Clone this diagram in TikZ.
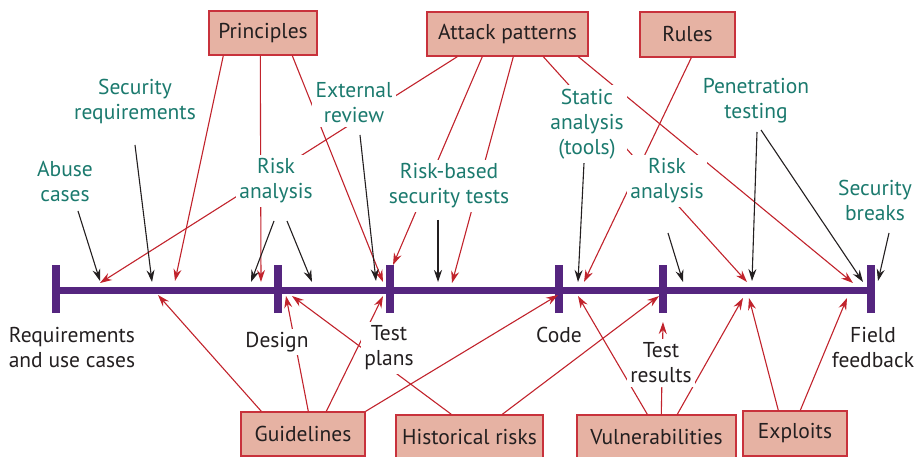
\documentclass[tikz,border=0pt]{standalone}
\usepackage{fontspec}
\setmainfont{PT Sans}
\usetikzlibrary{arrows.meta}
\definecolor{lblc}{HTML}{1B7A6E}
\definecolor{boxfill}{HTML}{E6B2A3}
\definecolor{boxline}{HTML}{C8323C}
\definecolor{redln}{HTML}{C1232C}
\definecolor{purp}{HTML}{55257F}
\definecolor{ink}{HTML}{231F20}
\begin{document}
\begin{tikzpicture}[x=1pt,y=-1pt,
  txt/.style={font=\fontsize{21.5}{25}\selectfont, align=center, fill=white, inner sep=3.5pt},
  lbl/.style={txt, text=lblc},
  blab/.style={txt, text=ink},
  box/.style={draw=boxline, fill=boxfill, line width=1.4pt, text=ink, font=\fontsize{21.5}{25}\selectfont, inner sep=0pt, minimum height=44pt},
  blk/.style={draw=ink, line width=1.1pt, -{Stealth[length=12pt,width=8pt,inset=4pt]}},
  rd/.style={draw=redln, line width=1.1pt, -{Stealth[length=12pt,width=8pt,inset=4pt]}},
  tick/.style={draw=purp, line width=8pt},
]
\useasboundingbox (0,0) rectangle (916,457);

% boxes
\node[box, minimum width=108pt] (principles) at (263,33) {Principles};
\node[box, minimum width=161pt] (attack) at (507.5,34) {Attack patterns};
\node[box, minimum width=95pt, minimum height=45pt] (rules) at (687.5,34.5) {Rules};
\node[box, minimum width=124pt] (guide) at (303,434) {Guidelines};
\node[box, minimum width=147pt] (hist) at (469.5,437) {Historical risks};
\node[box, minimum width=159pt] (vuln) at (656.5,437) {Vulnerabilities};
\node[box, minimum width=104pt, minimum height=45pt] (expl) at (795,433.5) {Exploits};

% timeline
\coordinate (t0) at (56,290);
\coordinate (t1) at (278,290);
\coordinate (t2) at (390,290);
\coordinate (t3) at (559,290);
\coordinate (t4) at (663,290);
\coordinate (t5) at (871,290);
\draw[purp, line width=7pt] (t0) -- (t5);
\foreach \t in {t0,t1,t2,t3,t4,t5}{
  \draw[tick] ([yshift=-23pt]\t) -- ([yshift=25pt]\t);
}

% end points
\coordinate (e1) at (100,281);
\coordinate (e2) at (152,282);
\coordinate (e3) at (251,282);
\coordinate (e4) at (312,282);
\coordinate (e5) at (376,281);
\coordinate (e6) at (438,282);
\coordinate (e7) at (578,282);
\coordinate (e8) at (683,282);
\coordinate (e9) at (752,281);
\coordinate (e10) at (863,282);
\coordinate (e11) at (878,281);
\coordinate (f1) at (175,281);
\coordinate (f2) at (261,282);
\coordinate (f3) at (383,282);
\coordinate (f4) at (100,283);
\coordinate (f5) at (393,265);
\coordinate (f6) at (452,283);
\coordinate (f7) at (747,282);
\coordinate (f8) at (853,283);
\coordinate (f9) at (584,282);
\coordinate (g1) at (158,295);
\coordinate (g2) at (286,296);
\coordinate (g3) at (383,296);
\coordinate (g4) at (558,295);
\coordinate (g5) at (292,296);
\coordinate (g6) at (659,296);
\coordinate (g7) at (578,296);
\coordinate (g8) at (663,322);
\coordinate (g9) at (743,298);
\coordinate (g10) at (749,298);
\coordinate (g11) at (847,298);

% black start points (below labels)
\coordinate (s1) at (78,211);
\coordinate (s2) at (135,145);
\coordinate (s3) at (274,221);
\coordinate (s4) at (287,221);
\coordinate (s5) at (360,135);
\coordinate (s6) at (438,220);
\coordinate (s7) at (584,163);
\coordinate (s8) at (668,233);
\coordinate (s9) at (757,132);
\coordinate (s10) at (761,130);
\coordinate (s11) at (889,233);

% red connectors from top boxes
\draw[rd] ([xshift=15pt]principles.south west) -- (f1);
\draw[rd] ([xshift=52pt]principles.south west) -- (f2);
\draw[rd] ([xshift=84pt]principles.south west) -- (f3);
\draw[rd] ([xshift=31pt]attack.south west) -- (f4);
\draw[rd] ([xshift=56pt]attack.south west) -- (f5);
\draw[rd] ([xshift=87pt]attack.south west) -- (f6);
\draw[rd] ([xshift=117pt]attack.south west) -- (f7);
\draw[rd] ([xshift=152pt]attack.south west) -- (f8);
\draw[rd] ([xshift=52pt]rules.south west) -- (f9);

% red connectors from bottom boxes
\draw[rd] ([xshift=21pt]guide.north west) -- (g1);
\draw[rd] ([xshift=68pt]guide.north west) -- (g2);
\draw[rd] ([xshift=86pt]guide.north west) -- (g3);
\draw[rd] (guide.north east) -- (g4);
\draw[rd] ([xshift=56pt]hist.north west) -- (g5);
\draw[rd] ([xshift=107pt]hist.north west) -- (g6);
\draw[rd] ([xshift=71pt]vuln.north west) -- (g7);
\draw[rd] ([xshift=85pt]vuln.north west) -- (g8);
\draw[rd] ([xshift=101pt]vuln.north west) -- (g9);
\draw[rd] ([xshift=36pt]expl.north west) -- (g10);
\draw[rd] ([xshift=58pt]expl.north west) -- (g11);

% black connectors
\foreach \i in {1,...,11}{ \draw[blk] (s\i) -- (e\i); }

% labels (on top, white background makes the gaps)
\node[lbl] (abuse) at (65,181) {Abuse\\cases};
\node[lbl] (secreq) at (135,101) {Security\\requirements};
\node[lbl] (riskl) at (276,181) {Risk\\analysis};
\node[lbl] (ext) at (354,103) {External\\review};
\node[lbl] (rbst) at (449,186) {Risk-based\\security tests};
\node[lbl] (stat) at (587,124) {Static\\analysis\\(tools)};
\node[lbl] (riskr) at (667,181) {Risk\\analysis};
\node[lbl] (pen) at (756,101) {Penetration\\testing};
\node[lbl] (brk) at (875,200) {Security\\breaks};

\node[blab, fill=none] (req) at (72,348) {Requirements\\and use cases};
\node[blab] (design) at (277,342) {Design};
\node[blab] (tplans) at (389,348) {Test\\plans};
\node[blab, fill=none] (code) at (559,335) {Code};
\node[blab] (tres) at (661,363) {Test\\results};
\node[blab, fill=none] (field) at (873,348) {Field\\feedback};
\end{tikzpicture}
\end{document}
